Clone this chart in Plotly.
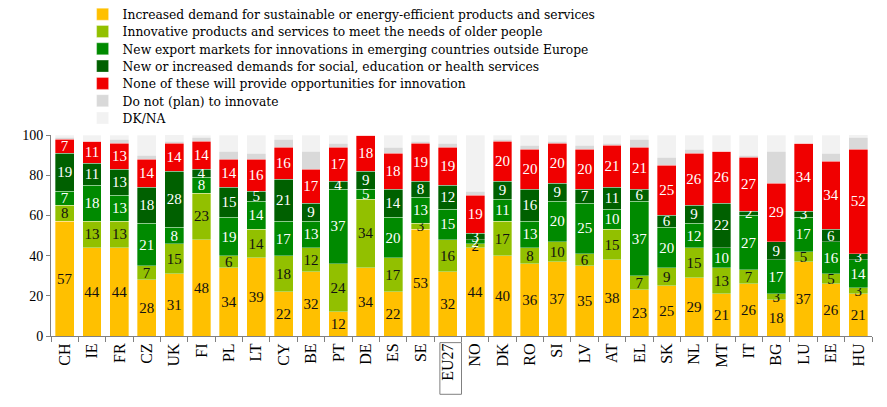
import plotly.graph_objects as go

countries = ["CH", "IE", "FR", "CZ", "UK", "FI", "PL", "LT", "CY", "BE", "PT", "DE", "ES", "SE", "EU27",
             "NO", "DK", "RO", "SI", "LV", "AT", "EL", "SK", "NL", "MT", "IT", "BG", "LU", "EE", "HU"]

sustainable = [57, 44, 44, 28, 31, 48, 34, 39, 22, 32, 12, 34, 22, 53, 32,
               44, 40, 36, 37, 35, 38, 23, 25, 29, 21, 26, 18, 37, 26, 21]
older_people = [8, 13, 13, 7, 15, 23, 6, 14, 18, 12, 24, 34, 17, 3, 16,
                2, 17, 8, 10, 6, 15, 7, 9, 15, 13, 7, 3, 5, 5, 3]
export_markets = [7, 18, 13, 21, 8, 8, 19, 14, 17, 13, 37, 5, 20, 13, 15,
                  2, 11, 13, 20, 25, 10, 37, 20, 12, 10, 27, 17, 17, 16, 14]
social_services = [19, 11, 13, 18, 28, 4, 15, 5, 21, 9, 4, 9, 14, 8, 12,
                   3, 9, 16, 9, 7, 11, 6, 6, 9, 22, 2, 9, 3, 6, 3]
none_of_these = [7, 11, 13, 14, 14, 14, 14, 16, 16, 17, 17, 18, 18, 19, 19,
                 19, 20, 20, 20, 20, 21, 21, 25, 26, 26, 27, 29, 34, 34, 52]
not_innovate = [1, 0, 2, 2, 1, 2, 4, 3, 4, 9, 2, 0, 3, 1, 2,
                2, 1, 2, 1, 2, 1, 4, 4, 2, 0, 1, 16, 0, 4, 6]
dk_na = [1, 3, 2, 10, 4, 1, 8, 9, 3, 8, 4, 0, 6, 3, 4,
         28, 2, 5, 3, 5, 4, 2, 11, 7, 8, 10, 8, 4, 9, 2]

series = [
    ("Increased demand for sustainable or energy-efficient products and services", sustainable, "#FFC000", "#111111", True),
    ("Innovative products and services to meet the needs of older people", older_people, "#92C000", "#111111", True),
    ("New export markets for innovations in emerging countries outside Europe", export_markets, "#008A00", "#FFFFFF", True),
    ("New or increased demands for social, education or health services", social_services, "#006000", "#FFFFFF", True),
    ("None of these will provide opportunities for innovation", none_of_these, "#F00000", "#FFFFFF", True),
    ("Do not (plan) to innovate", not_innovate, "#D9D9D9", "#111111", False),
    ("DK/NA", dk_na, "#F2F2F2", "#111111", False),
]

SERIF = "Liberation Serif, Times New Roman, serif"
LEGEND_SERIF = "DejaVu Serif, Georgia, serif"

# the page shows the figure with an 8px offset, so sizes are reduced accordingly
FIG_W, FIG_H = 879, 399
M_L, M_R, M_T, M_B = 43, 15, 127, 71
PLOT_H = FIG_H - M_T - M_B

fig = go.Figure()
legend_layouts = {}
for i, (name, vals, color, tcolor, show_text) in enumerate(series):
    lname = "legend" if i == 0 else f"legend{i + 1}"
    fig.add_trace(go.Bar(
        name=name,
        x=countries,
        y=vals,
        legend=lname,
        showlegend=True,
        marker=dict(color=color, line=dict(color="rgba(255,255,255,0.55)", width=0.6)),
        text=[str(v) for v in vals] if show_text else None,
        textposition="inside" if show_text else "none",
        insidetextanchor="middle",
        textangle=0,
        textfont=dict(family=SERIF, size=15, color=tcolor),
        hoverinfo="name+y",
    ))
    # one entry per legend box, stacked with a 17.3px row pitch
    top_px = -8.3 + 17.3 * i
    legend_layouts[lname] = dict(
        x=0.0385, y=(FIG_H - M_B - top_px) / PLOT_H, xref="paper", yref="paper",
        xanchor="left", yanchor="top",
        bgcolor="rgba(0,0,0,0)",
        font=dict(family=LEGEND_SERIF, size=12.3, color="#000000"),
    )

eu_idx = countries.index("EU27")

fig.update_layout(
    showlegend=True,
    barmode="stack",
    bargap=0.31,
    width=FIG_W,
    height=FIG_H,
    margin=dict(l=M_L, r=M_R, t=M_T, b=M_B, autoexpand=False),
    paper_bgcolor="white",
    plot_bgcolor="white",
    uniformtext=dict(minsize=15, mode="show"),
    font=dict(family=SERIF, color="#000000"),
    xaxis=dict(
        type="category",
        tickangle=-90,
        tickfont=dict(family=SERIF, size=16, color="#000000"),
        showline=True, linecolor="#808080", linewidth=1,
        ticks="outside", ticklen=5, tickcolor="#808080",
        tickson="boundaries",
        showgrid=False,
    ),
    yaxis=dict(
        range=[0, 100],
        tickvals=[0, 20, 40, 60, 80, 100],
        tickfont=dict(family=SERIF, size=14, color="#000000"),
        showline=True, linecolor="#808080", linewidth=1,
        ticks="outside", ticklen=4, tickcolor="#808080",
        showgrid=False, zeroline=False,
    ),
    shapes=[dict(
        type="rect", xref="x", yref="paper",
        x0=eu_idx - 0.29, x1=eu_idx + 0.5, y0=-0.033, y1=-0.29,
        line=dict(color="#808080", width=1),
    )],
    **legend_layouts,
)

fig.write_html("out.html")
